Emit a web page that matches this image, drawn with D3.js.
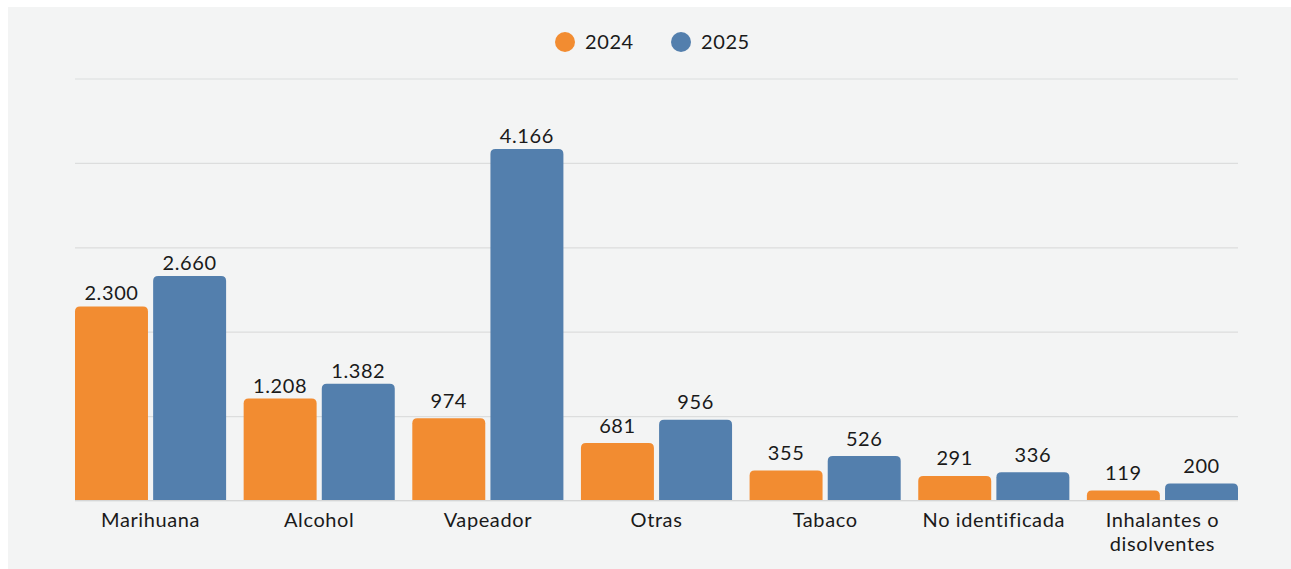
<!DOCTYPE html>
<html>
<head>
<meta charset="utf-8">
<script src="https://cdn.jsdelivr.net/npm/d3@7"></script>
<style>
  html, body { margin: 0; padding: 0; background: #ffffff; }
  svg { display: block; }
  text { font-family: Lato, "Open Sans", sans-serif; fill: #1a1a1a; letter-spacing: 0.6px; }
</style>
</head>
<body>
<svg id="chart" width="1291" height="569"></svg>
<script>
const categories = [["Marihuana"], ["Alcohol"], ["Vapeador"], ["Otras"], ["Tabaco"], ["No identificada"], ["Inhalantes o", "disolventes"]];
const seriesNames = ["2024", "2025"];
const values2024 = [2300, 1208, 974, 681, 355, 291, 119];
const values2025 = [2660, 1382, 4166, 956, 526, 336, 200];
const yTicks = [0, 1000, 2000, 3000, 4000, 5000];
const colors = ["#F28C31", "#537FAD"];

(function () {
const svg = d3.select("#chart");
const W = 1291, H = 569;
svg.append("rect").attr("x", 8).attr("y", 7).attr("width", W - 8).attr("height", H - 7).attr("fill", "#F3F4F4");

const mLeft = 75, mRight = 1238, mTop = 78.5, mBottom = 500.5;
const x = d3.scaleBand().domain(d3.range(categories.length)).range([mLeft, mRight]).paddingInner(0.104).paddingOuter(0);
const gap = 5;
const xs = d3.scaleBand().domain(seriesNames).range([0, x.bandwidth()]).paddingInner(gap / (x.bandwidth() / 2)).paddingOuter(0);
const y = d3.scaleLinear().domain([0, 5000]).range([mBottom, mTop]);

// grid
const yAxis = d3.axisLeft(y).tickValues(yTicks).tickSize(-(mRight - mLeft)).tickFormat("");
const g = svg.append("g").attr("transform", `translate(${mLeft},0)`).call(yAxis);
g.select(".domain").remove();
g.selectAll(".tick line").attr("stroke", "#DCDDDD").attr("stroke-width", 1.2);

const fmt = v => d3.format(",")(v).replace(/,/g, ".");

function roundTopRect(x0, y0, w, h, r) {
  r = Math.min(r, h, w / 2);
  return `M${x0},${y0 + h}V${y0 + r}Q${x0},${y0} ${x0 + r},${y0}H${x0 + w - r}Q${x0 + w},${y0} ${x0 + w},${y0 + r}V${y0 + h}Z`;
}

const series = [values2024, values2025];
series.forEach((vals, si) => {
  const gs = svg.append("g");
  vals.forEach((v, i) => {
    const bx = x(i) + xs(seriesNames[si]);
    const bw = xs.bandwidth();
    gs.append("path").attr("d", roundTopRect(bx, y(v), bw, y(0) - y(v), 5)).attr("fill", colors[si]);
    const off = v >= 1000 ? 6 : 10.5;
    gs.append("text").attr("x", bx + bw / 2).attr("y", y(v) - off).attr("text-anchor", "middle")
      .attr("font-size", 20).text(fmt(v));
  });
});

// baseline
svg.append("line").attr("x1", mLeft).attr("x2", mRight).attr("y1", y(0)).attr("y2", y(0)).attr("stroke", "#D5D6D6").attr("stroke-width", 1.2);

// category labels
categories.forEach((lines, i) => {
  const cx = x(i) + x.bandwidth() / 2;
  const t = svg.append("text").attr("x", cx).attr("y", 527).attr("text-anchor", "middle").attr("font-size", 20);
  lines.forEach((l, j) => t.append("tspan").attr("x", cx).attr("dy", j === 0 ? 0 : 24).text(l));
});

// legend
const legendX = [565, 681];
seriesNames.forEach((s, i) => {
  svg.append("circle").attr("cx", legendX[i]).attr("cy", 42).attr("r", 10).attr("fill", colors[i]);
  svg.append("text").attr("x", legendX[i] + 20).attr("y", 49).attr("font-size", 20).text(s);
});
})();
</script>
</body>
</html>
